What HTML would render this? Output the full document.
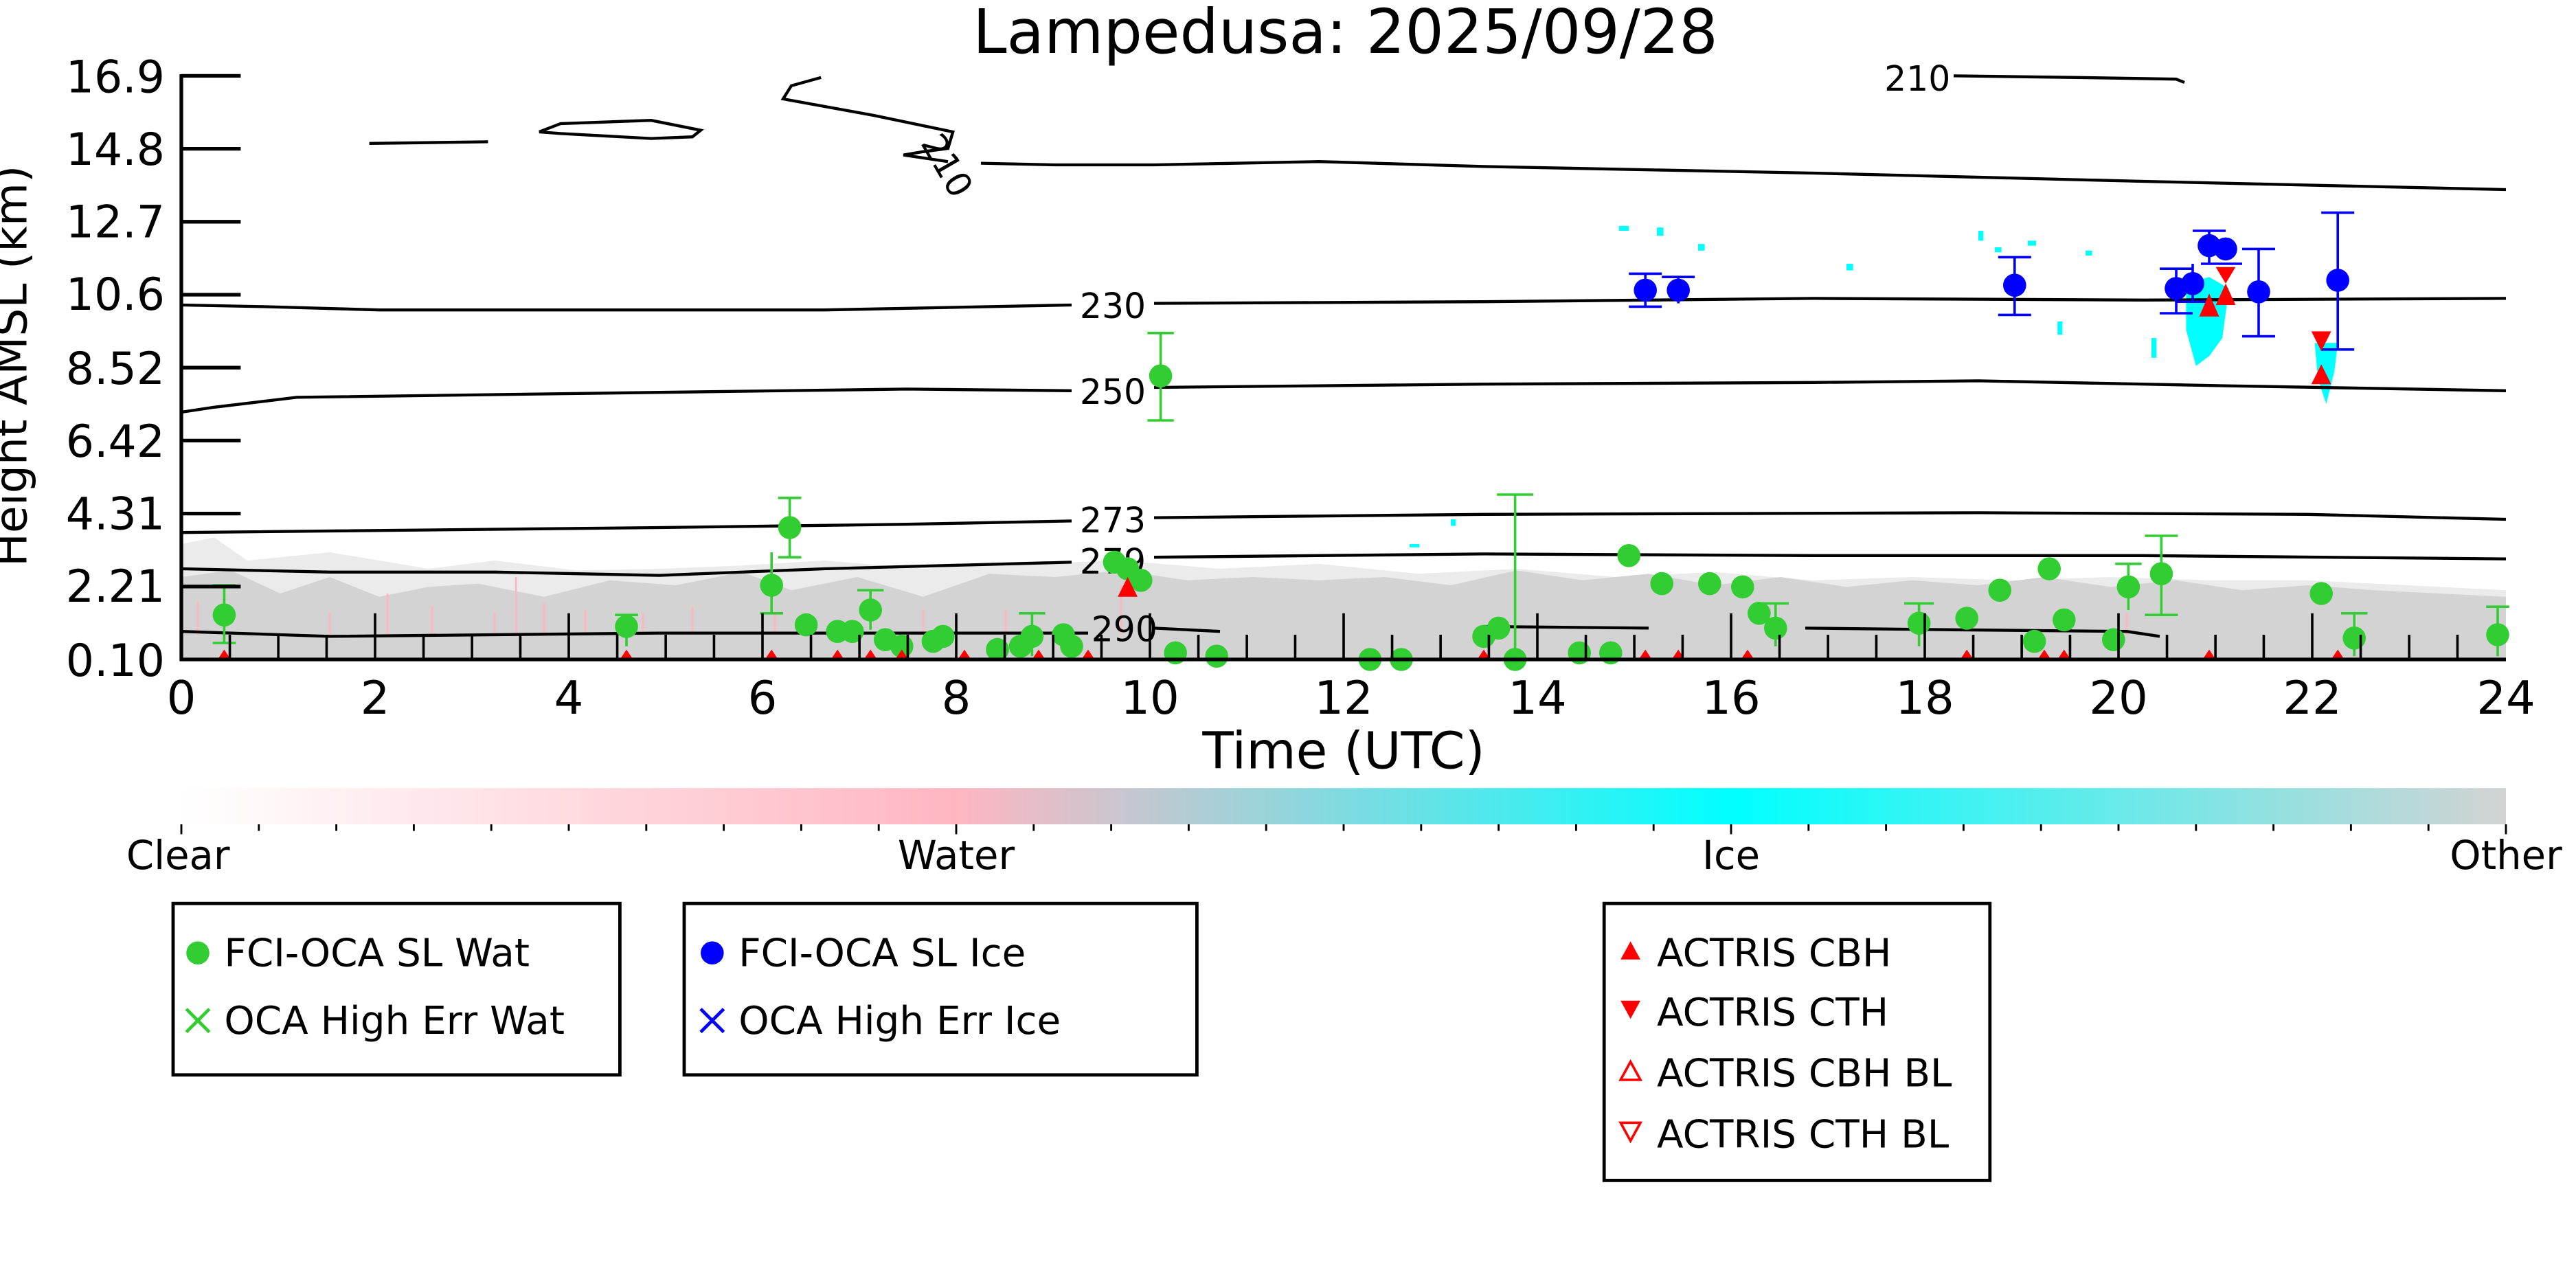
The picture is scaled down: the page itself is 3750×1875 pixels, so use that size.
<!DOCTYPE html>
<html><head><meta charset="utf-8"><style>
html,body{margin:0;padding:0;background:#fff;}
svg{display:block;}
text{font-family:"DejaVu Sans","Liberation Sans",sans-serif;}
</style></head><body>
<svg width="3750" height="1875" viewBox="0 0 1562.5 781.25" xmlns="http://www.w3.org/2000/svg">
<defs>
<linearGradient id="cb" x1="0" x2="1" y1="0" y2="0">
<stop offset="0" stop-color="#ffffff"/>
<stop offset="0.333" stop-color="#ffb6c1"/>
<stop offset="0.667" stop-color="#00ffff"/>
<stop offset="1" stop-color="#d3d3d3"/>
</linearGradient>
</defs>
<text x="816" y="32" font-size="37" text-anchor="middle">Lampedusa: 2025/09/28</text>

<!-- grey band -->
<polygon fill="#ebebeb" points="110,330 130,326 150,340 200,335 260,345 300,340 350,346 400,345 450,343 500,340 560,345 620,342 680,340 740,345 800,342 860,348 920,345 980,350 1040,347 1100,352 1160,350 1220,352 1280,350 1340,352 1400,352 1460,355 1520,358 1520,400 110,400"/>
<polygon fill="#d3d3d3" points="110,350 140,346 170,360 200,350 230,362 260,356 290,354 330,362 370,352 410,355 450,347 480,358 520,350 560,362 600,348 640,350 680,346 720,352 760,350 800,352 840,350 880,355 920,346 960,352 1000,348 1040,355 1080,350 1120,356 1160,352 1200,355 1240,350 1280,356 1320,352 1360,358 1400,355 1440,358 1480,360 1520,362 1520,400 110,400"/>
<rect x="110" y="385" width="1410" height="15" fill="#d3d3d3"/>
<g stroke="#ffb6c1" stroke-width="1.2">
<line x1="120" y1="365" x2="120" y2="385"/><line x1="200" y1="372" x2="200" y2="385"/><line x1="235" y1="360" x2="235" y2="385"/>
<line x1="262" y1="368" x2="262" y2="385"/><line x1="300" y1="372" x2="300" y2="385"/><line x1="313" y1="350" x2="313" y2="385"/>
<line x1="330" y1="366" x2="330" y2="385"/><line x1="355" y1="370" x2="355" y2="385"/><line x1="390" y1="372" x2="390" y2="385"/>
<line x1="420" y1="368" x2="420" y2="385"/><line x1="470" y1="372" x2="470" y2="385"/><line x1="560" y1="370" x2="560" y2="385"/>
<line x1="610" y1="370" x2="610" y2="385"/><line x1="680" y1="355" x2="680" y2="385"/><line x1="1290" y1="372" x2="1290" y2="385"/>
</g>
<g fill="#00ffff">
<rect x="982" y="137" width="6" height="3"/><rect x="1005" y="138" width="4" height="5"/><rect x="1030" y="148" width="4" height="4"/>
<rect x="1120" y="160" width="4" height="4"/><rect x="1200" y="140" width="3" height="6"/><rect x="1210" y="150" width="4" height="3"/>
<rect x="1230" y="146" width="5" height="3"/><rect x="1248" y="195" width="3" height="8"/><rect x="1265" y="152" width="4" height="3"/>
<polygon points="1326,172 1340,168 1352,175 1348,205 1340,216 1332,222 1326,200"/>
<polygon points="1404,208 1418,208 1416,225 1411,245 1406,230"/>
<rect x="1305" y="205" width="3" height="12"/><rect x="855" y="330" width="6" height="2"/><rect x="880" y="315" width="3" height="4"/>
</g>

<!-- contours -->
<g fill="none" stroke="#000" stroke-width="1.8">
<polyline points="110,185 160,186 230,188 400,188 500,188 600,186 650,185"/>
<polyline points="700,184 900,183 1100,181 1300,182 1520,181"/>
<polyline points="110,250 130,247 180,241 400,238 550,236 650,237"/>
<polyline points="700,235 900,233 1100,232 1200,231 1350,234 1520,237"/>
<polyline points="110,323 400,320 550,318 650,316"/>
<polyline points="700,314 900,312 1200,311 1400,312 1520,315"/>
<polyline points="110,345 200,347 300,347 400,349 500,345 650,341"/>
<polyline points="700,338 900,336 1100,337 1300,337 1520,339"/>
<polyline points="110,383 200,386 400,384 660,384"/>
<polyline points="700,381 740,383"/>
<polyline points="900,380 1000,381"/>
<polyline points="1095,381 1185,382 1290,383 1310,386"/>
<polyline points="595,99 640,100 700,100 800,98 900,101 1100,105 1300,110 1520,115"/>
<polyline points="224,87 296,86"/>
<polyline points="327,80 340,75 395,73 425,79 420,83 395,84 340,81 327,80"/>
<polyline points="498,47 480,52 475,60 530,70 578,80 575,90 560,92 548,94 575,98"/>
<polyline points="1185,46 1260,47 1320,48 1325,50"/>
</g>
<g font-size="21" text-anchor="middle">
<text x="675" y="193">230</text>
<text x="675" y="245">250</text>
<text x="675" y="323">273</text>
<text x="675" y="348">279</text>
<text x="682" y="389">290</text>
<text x="1163" y="55">210</text>
<text x="575" y="108" transform="rotate(60 575 100)">210</text>
</g>

<!-- points -->
<g stroke="#32cd32" stroke-width="1.5">
<line x1="136" y1="355" x2="136" y2="390"/><line x1="129" y1="355" x2="143" y2="355"/><line x1="129" y1="390" x2="143" y2="390"/>
<line x1="380" y1="373" x2="380" y2="392"/><line x1="373" y1="373" x2="387" y2="373"/>
<line x1="468" y1="335" x2="468" y2="372"/><line x1="461" y1="372" x2="475" y2="372"/>
<line x1="479" y1="302" x2="479" y2="338"/><line x1="472" y1="302" x2="486" y2="302"/><line x1="472" y1="338" x2="486" y2="338"/>
<line x1="704" y1="202" x2="704" y2="255"/><line x1="696" y1="202" x2="712" y2="202"/><line x1="696" y1="255" x2="712" y2="255"/>
<line x1="919" y1="300" x2="919" y2="398"/><line x1="908" y1="300" x2="930" y2="300"/>
<line x1="1311" y1="325" x2="1311" y2="373"/><line x1="1301" y1="325" x2="1321" y2="325"/><line x1="1301" y1="373" x2="1321" y2="373"/>
<line x1="1291" y1="342" x2="1291" y2="370"/><line x1="1283" y1="342" x2="1299" y2="342"/>
<line x1="1164" y1="366" x2="1164" y2="392"/><line x1="1155" y1="366" x2="1173" y2="366"/>
<line x1="1077" y1="366" x2="1077" y2="392"/><line x1="1069" y1="366" x2="1085" y2="366"/>
<line x1="1428" y1="372" x2="1428" y2="398"/><line x1="1420" y1="372" x2="1436" y2="372"/>
<line x1="1515" y1="368" x2="1515" y2="398"/><line x1="1508" y1="368" x2="1522" y2="368"/>
<line x1="528" y1="358" x2="528" y2="382"/><line x1="520" y1="358" x2="536" y2="358"/>
<line x1="626" y1="372" x2="626" y2="398"/><line x1="618" y1="372" x2="634" y2="372"/>
</g>
<g fill="#32cd32">
<circle cx="136" cy="373" r="7"/><circle cx="380" cy="380" r="7"/><circle cx="468" cy="355" r="7"/><circle cx="479" cy="320" r="7"/>
<circle cx="489" cy="379" r="7"/><circle cx="508" cy="383" r="7"/><circle cx="517" cy="383" r="7"/><circle cx="528" cy="370" r="7"/>
<circle cx="537" cy="388" r="7"/><circle cx="547" cy="392" r="7"/><circle cx="566" cy="389" r="7"/><circle cx="572" cy="386" r="7"/>
<circle cx="605" cy="394" r="7"/><circle cx="619" cy="392" r="7"/><circle cx="626" cy="386" r="7"/><circle cx="645" cy="385" r="7"/>
<circle cx="650" cy="392" r="7"/><circle cx="676" cy="341" r="7"/><circle cx="684" cy="345" r="7"/><circle cx="692" cy="352" r="7"/>
<circle cx="704" cy="228" r="7"/><circle cx="713" cy="396" r="7"/><circle cx="738" cy="398" r="7"/><circle cx="831" cy="400" r="7"/>
<circle cx="850" cy="400" r="7"/><circle cx="900" cy="386" r="7"/><circle cx="909" cy="381" r="7"/><circle cx="919" cy="400" r="7"/>
<circle cx="958" cy="396" r="7"/><circle cx="977" cy="396" r="7"/><circle cx="988" cy="337" r="7"/><circle cx="1008" cy="354" r="7"/>
<circle cx="1037" cy="354" r="7"/><circle cx="1057" cy="356" r="7"/><circle cx="1067" cy="372" r="7"/><circle cx="1077" cy="381" r="7"/>
<circle cx="1164" cy="378" r="7"/><circle cx="1193" cy="375" r="7"/><circle cx="1213" cy="358" r="7"/><circle cx="1234" cy="389" r="7"/>
<circle cx="1243" cy="345" r="7"/><circle cx="1252" cy="376" r="7"/><circle cx="1282" cy="388" r="7"/><circle cx="1291" cy="356" r="7"/>
<circle cx="1311" cy="348" r="7"/><circle cx="1408" cy="360" r="7"/><circle cx="1428" cy="387" r="7"/><circle cx="1515" cy="385" r="7"/>
</g>
<g stroke="#0000ff" stroke-width="1.5">
<line x1="998" y1="166" x2="998" y2="186"/><line x1="988" y1="166" x2="1008" y2="166"/><line x1="988" y1="186" x2="1008" y2="186"/>
<line x1="1018" y1="168" x2="1018" y2="184"/><line x1="1008" y1="168" x2="1028" y2="168"/>
<line x1="1222" y1="156" x2="1222" y2="191"/><line x1="1212" y1="156" x2="1232" y2="156"/><line x1="1212" y1="191" x2="1232" y2="191"/>
<line x1="1320" y1="163" x2="1320" y2="190"/><line x1="1310" y1="163" x2="1330" y2="163"/><line x1="1310" y1="190" x2="1330" y2="190"/>
<line x1="1330" y1="160" x2="1330" y2="183"/><line x1="1320" y1="183" x2="1340" y2="183"/>
<line x1="1340" y1="140" x2="1340" y2="160"/><line x1="1330" y1="140" x2="1350" y2="140"/><line x1="1335" y1="160" x2="1360" y2="160"/>
<line x1="1370" y1="151" x2="1370" y2="204"/><line x1="1360" y1="151" x2="1380" y2="151"/><line x1="1360" y1="204" x2="1380" y2="204"/>
<line x1="1418" y1="129" x2="1418" y2="212"/><line x1="1408" y1="129" x2="1428" y2="129"/><line x1="1408" y1="212" x2="1428" y2="212"/>
</g>
<g fill="#ff0000">
<polygon points="1340,178 1346,192 1334,192"/><polygon points="1350,172 1356,185 1344,185"/>
<polygon points="1344,162 1356,162 1350,172"/>
<polygon points="1402,201 1414,201 1408,213"/><polygon points="1408,221 1414,233 1402,233"/>
<polygon points="684,350 690,362 678,362"/>
<polygon points="136,394 140,400 132,400"/><polygon points="380,394 384,400 376,400"/><polygon points="468,394 472,400 464,400"/>
<polygon points="508,394 512,400 504,400"/><polygon points="528,394 532,400 524,400"/><polygon points="547,394 551,400 543,400"/>
<polygon points="585,394 589,400 581,400"/><polygon points="630,394 634,400 626,400"/><polygon points="660,394 664,400 656,400"/>
<polygon points="900,394 904,400 896,400"/><polygon points="998,394 1002,400 994,400"/><polygon points="1018,394 1022,400 1014,400"/>
<polygon points="1060,394 1064,400 1056,400"/><polygon points="1193,394 1197,400 1189,400"/><polygon points="1240,394 1244,400 1236,400"/>
<polygon points="1252,394 1256,400 1248,400"/><polygon points="1340,394 1344,400 1336,400"/><polygon points="1418,394 1422,400 1414,400"/>
</g>
<g fill="#0000ff">
<circle cx="998" cy="176" r="7"/><circle cx="1018" cy="176" r="7"/><circle cx="1222" cy="173" r="7"/><circle cx="1320" cy="175" r="7"/>
<circle cx="1330" cy="172" r="7"/><circle cx="1340" cy="149" r="7"/><circle cx="1350" cy="151" r="7"/><circle cx="1370" cy="177" r="7"/><circle cx="1418" cy="170" r="7"/>
</g>

<!-- axes -->
<g stroke="#000" stroke-width="2.2">
<line x1="110" y1="45" x2="110" y2="401"/>
<line x1="109" y1="400" x2="1520" y2="400"/>
<line x1="110" y1="46" x2="146" y2="46"/><line x1="110" y1="90.25" x2="146" y2="90.25"/><line x1="110" y1="134.5" x2="146" y2="134.5"/>
<line x1="110" y1="178.75" x2="146" y2="178.75"/><line x1="110" y1="223" x2="146" y2="223"/><line x1="110" y1="267.25" x2="146" y2="267.25"/>
<line x1="110" y1="311.5" x2="146" y2="311.5"/><line x1="110" y1="355.75" x2="146" y2="355.75"/>
</g>
<g stroke="#000" stroke-width="1.5">
<line x1="139.4" y1="385" x2="139.4" y2="400"/><line x1="168.8" y1="385" x2="168.8" y2="400"/><line x1="198.1" y1="385" x2="198.1" y2="400"/>
<line x1="227.5" y1="372" x2="227.5" y2="400"/><line x1="256.9" y1="385" x2="256.9" y2="400"/><line x1="286.3" y1="385" x2="286.3" y2="400"/>
<line x1="315.6" y1="385" x2="315.6" y2="400"/><line x1="345" y1="372" x2="345" y2="400"/><line x1="374.4" y1="385" x2="374.4" y2="400"/>
<line x1="403.8" y1="385" x2="403.8" y2="400"/><line x1="433.1" y1="385" x2="433.1" y2="400"/><line x1="462.5" y1="372" x2="462.5" y2="400"/>
<line x1="491.9" y1="385" x2="491.9" y2="400"/><line x1="521.3" y1="385" x2="521.3" y2="400"/><line x1="550.6" y1="385" x2="550.6" y2="400"/>
<line x1="580" y1="372" x2="580" y2="400"/><line x1="609.4" y1="385" x2="609.4" y2="400"/><line x1="638.8" y1="385" x2="638.8" y2="400"/>
<line x1="668.1" y1="385" x2="668.1" y2="400"/><line x1="697.5" y1="372" x2="697.5" y2="400"/><line x1="726.9" y1="385" x2="726.9" y2="400"/>
<line x1="756.3" y1="385" x2="756.3" y2="400"/><line x1="785.6" y1="385" x2="785.6" y2="400"/><line x1="815" y1="372" x2="815" y2="400"/>
<line x1="844.4" y1="385" x2="844.4" y2="400"/><line x1="873.8" y1="385" x2="873.8" y2="400"/><line x1="903.1" y1="385" x2="903.1" y2="400"/>
<line x1="932.5" y1="372" x2="932.5" y2="400"/><line x1="961.9" y1="385" x2="961.9" y2="400"/><line x1="991.3" y1="385" x2="991.3" y2="400"/>
<line x1="1020.6" y1="385" x2="1020.6" y2="400"/><line x1="1050" y1="372" x2="1050" y2="400"/><line x1="1079.4" y1="385" x2="1079.4" y2="400"/>
<line x1="1108.8" y1="385" x2="1108.8" y2="400"/><line x1="1138.1" y1="385" x2="1138.1" y2="400"/><line x1="1167.5" y1="372" x2="1167.5" y2="400"/>
<line x1="1196.9" y1="385" x2="1196.9" y2="400"/><line x1="1226.3" y1="385" x2="1226.3" y2="400"/><line x1="1255.6" y1="385" x2="1255.6" y2="400"/>
<line x1="1285" y1="372" x2="1285" y2="400"/><line x1="1314.4" y1="385" x2="1314.4" y2="400"/><line x1="1343.8" y1="385" x2="1343.8" y2="400"/>
<line x1="1373.1" y1="385" x2="1373.1" y2="400"/><line x1="1402.5" y1="372" x2="1402.5" y2="400"/><line x1="1431.9" y1="385" x2="1431.9" y2="400"/>
<line x1="1461.3" y1="385" x2="1461.3" y2="400"/><line x1="1490.6" y1="385" x2="1490.6" y2="400"/>
</g>
<g font-size="27" text-anchor="end">
<text x="100" y="56">16.9</text><text x="100" y="100">14.8</text><text x="100" y="144">12.7</text><text x="100" y="188">10.6</text>
<text x="100" y="233">8.52</text><text x="100" y="277">6.42</text><text x="100" y="321">4.31</text><text x="100" y="365">2.21</text><text x="100" y="410">0.10</text>
</g>
<g font-size="28" text-anchor="middle">
<text x="110" y="433">0</text><text x="227.5" y="433">2</text><text x="345" y="433">4</text><text x="462.5" y="433">6</text>
<text x="580" y="433">8</text><text x="697.5" y="433">10</text><text x="815" y="433">12</text><text x="932.5" y="433">14</text>
<text x="1050" y="433">16</text><text x="1167.5" y="433">18</text><text x="1285" y="433">20</text><text x="1402.5" y="433">22</text><text x="1520" y="433">24</text>
</g>
<text x="815" y="466" font-size="31" text-anchor="middle">Time (UTC)</text>
<text x="-222" y="16" font-size="27" text-anchor="middle" transform="rotate(-90)">Height AMSL (km)</text>

<!-- colorbar -->
<rect x="110" y="478" width="1410" height="22" fill="url(#cb)"/>
<g stroke="#000" stroke-width="1.2">
<line x1="110" y1="500" x2="110" y2="506"/><line x1="157" y1="500" x2="157" y2="504"/><line x1="204" y1="500" x2="204" y2="504"/>
<line x1="251" y1="500" x2="251" y2="504"/><line x1="298" y1="500" x2="298" y2="504"/><line x1="345" y1="500" x2="345" y2="504"/>
<line x1="392" y1="500" x2="392" y2="504"/><line x1="439" y1="500" x2="439" y2="504"/><line x1="486" y1="500" x2="486" y2="504"/>
<line x1="533" y1="500" x2="533" y2="504"/><line x1="580" y1="500" x2="580" y2="506"/><line x1="627" y1="500" x2="627" y2="504"/>
<line x1="674" y1="500" x2="674" y2="504"/><line x1="721" y1="500" x2="721" y2="504"/><line x1="768" y1="500" x2="768" y2="504"/>
<line x1="815" y1="500" x2="815" y2="504"/><line x1="862" y1="500" x2="862" y2="504"/><line x1="909" y1="500" x2="909" y2="504"/>
<line x1="956" y1="500" x2="956" y2="504"/><line x1="1003" y1="500" x2="1003" y2="504"/><line x1="1050" y1="500" x2="1050" y2="506"/>
<line x1="1097" y1="500" x2="1097" y2="504"/><line x1="1144" y1="500" x2="1144" y2="504"/><line x1="1191" y1="500" x2="1191" y2="504"/>
<line x1="1238" y1="500" x2="1238" y2="504"/><line x1="1285" y1="500" x2="1285" y2="504"/><line x1="1332" y1="500" x2="1332" y2="504"/>
<line x1="1379" y1="500" x2="1379" y2="504"/><line x1="1426" y1="500" x2="1426" y2="504"/><line x1="1473" y1="500" x2="1473" y2="504"/>
<line x1="1520" y1="500" x2="1520" y2="506"/>
</g>
<g font-size="24" text-anchor="middle">
<text x="108" y="527">Clear</text><text x="580" y="527">Water</text><text x="1050" y="527">Ice</text><text x="1520" y="527">Other</text>
</g>

<!-- legends -->
<g fill="none" stroke="#000" stroke-width="2">
<rect x="105" y="548" width="271" height="104"/>
<rect x="415" y="548" width="311" height="104"/>
<rect x="973" y="548" width="234" height="168"/>
</g>
<g font-size="23.5">
<circle cx="120" cy="578" r="7" fill="#32cd32"/><text x="136" y="586">FCI-OCA SL Wat</text>
<path d="M113,612 L127,626 M127,612 L113,626" stroke="#32cd32" stroke-width="2"/><text x="136" y="627">OCA High Err Wat</text>
<circle cx="432" cy="578" r="7" fill="#0000ff"/><text x="448" y="586">FCI-OCA SL Ice</text>
<path d="M425,612 L439,626 M439,612 L425,626" stroke="#0000ff" stroke-width="2"/><text x="448" y="627">OCA High Err Ice</text>
<polygon points="989,571 995,582 983,582" fill="#ff0000"/><text x="1005" y="586">ACTRIS CBH</text>
<polygon points="983,607 995,607 989,618" fill="#ff0000"/><text x="1005" y="622">ACTRIS CTH</text>
<polygon points="989,644 995,655 983,655" fill="none" stroke="#ff0000" stroke-width="1.5"/><text x="1005" y="659">ACTRIS CBH BL</text>
<polygon points="983,681 995,681 989,692" fill="none" stroke="#ff0000" stroke-width="1.5"/><text x="1005" y="696">ACTRIS CTH BL</text>
</g>
</svg>
</body></html>
